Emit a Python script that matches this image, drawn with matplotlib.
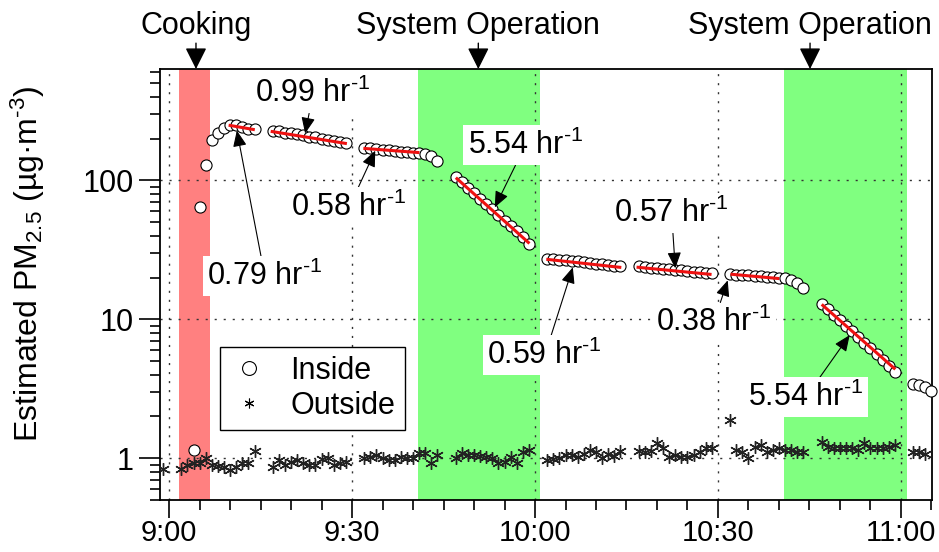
import numpy as np
import matplotlib.pyplot as plt
from matplotlib.ticker import MultipleLocator, LogLocator, NullFormatter

plt.rcParams['font.family'] = ['Liberation Sans', 'DejaVu Sans']
plt.rcParams['mathtext.fontset'] = 'custom'
plt.rcParams['mathtext.rm'] = 'Liberation Sans'
plt.rcParams['mathtext.it'] = 'Liberation Sans:italic'
plt.rcParams['mathtext.bf'] = 'Liberation Sans:bold'

# --- Data (time = minutes after 9:00) ---
inside_start = [4, 17, 32, 47, 62, 77, 92, 107, 122]
inside_vals = [
    [1.15, 64, 130, 197, 221, 240, 250, 250, 242, 236, 234],
    [229, 226, 221, 219, 215, 212, 207, 204, 200, 197, 193, 190, 186],
    [172, 170, 168, 166, 165, 163, 161, 160, 158, 157, 154, 150, 137],
    [106, 97, 88, 81, 74, 68, 62, 56, 51, 47, 43, 39, 35],
    [27.4, 27.1, 26.9, 26.6, 26.3, 26.1, 25.8, 25.5, 25.2, 25.0, 24.7, 24.4, 24.1],
    [24.1, 23.8, 23.6, 23.4, 23.2, 22.9, 22.7, 22.5, 22.3, 22.1, 21.9, 21.7, 21.4],
    [21.1, 21.0, 20.8, 20.7, 20.5, 20.4, 20.2, 20.1, 19.9, 19.7, 19.1, 18.2, 16.8],
    [13.0, 11.9, 10.8, 9.9, 9.0, 8.2, 7.5, 6.8, 6.2, 5.6, 5.1, 4.6, 4.2],
    [3.45, 3.35, 3.25, 3.05],
]

outside_start = [-1, 2, 17, 32, 47, 62, 77, 92, 107, 122]
outside_vals = [
    [0.83],
    [0.83, 0.89, 0.92, 0.92, 1.0, 0.89, 0.88, 0.86, 0.82, 0.86, 0.92, 0.92, 1.12],
    [0.86, 0.97, 0.89, 0.94, 0.97, 0.92, 0.89, 0.89, 0.98, 1.0, 0.89, 0.92, 0.94],
    [1.0, 1.02, 1.05, 1.0, 0.97, 0.97, 1.02, 1.0, 1.0, 1.09, 1.09, 0.92, 1.05],
    [1.0, 1.09, 1.05, 1.05, 1.04, 1.02, 1.0, 0.92, 0.94, 1.02, 0.92, 1.1, 1.14],
    [0.97, 0.98, 1.0, 1.05, 1.05, 1.02, 1.08, 1.14, 1.1, 1.0, 1.08, 1.03, 1.12],
    [1.12, 1.1, 1.12, 1.28, 1.18, 1.02, 1.05, 1.02, 1.02, 1.05, 1.1, 1.18, 1.18],
    [1.88, 1.14, 1.1, 1.0, 1.2, 1.24, 1.1, 1.14, 1.18, 1.14, 1.14, 1.1, 1.1],
    [1.3, 1.2, 1.18, 1.18, 1.18, 1.18, 1.14, 1.28, 1.18, 1.18, 1.18, 1.2, 1.24],
    [1.1, 1.1, 1.08],
]

# fitted decay segments (start/end time, start/end value)
fit_t0 = [10.0, 16.9, 32.1, 47.2, 62.1, 76.9, 92.3, 107.2]
fit_t1 = [13.8, 28.9, 40.8, 58.9, 73.9, 88.7, 99.8, 118.9]
fit_v0 = [249, 225, 170, 103, 27.0, 23.7, 21.1, 12.6]
fit_v1 = [233, 185, 159, 35.8, 23.7, 21.1, 19.7, 4.44]

rate_labels = ["0.79", "0.99", "0.58", "5.54", "0.59", "0.57", "0.38", "5.54"]
rate_tip_t = [11.1, 22.3, 33.8, 53.4, 66.2, 83.0, 91.6, 111.6]
rate_tip_v = [229, 218, 164, 64, 23.7, 23.3, 19.1, 7.7]
rate_text_t = [15.7, 23.6, 29.5, 58.4, 61.6, 82.4, 89.3, 104.4]
rate_text_v = [20.4, 423, 64, 179, 5.5, 58, 9.5, 2.75]

cook_period = (1.6, 6.7)
ops_periods = [(40.8, 60.8), (100.8, 121.0)]
event_labels = ["Cooking", "System Operation", "System Operation"]
event_t = [4.4, 50.7, 105.1]

xtick_pos = [0, 30, 60, 90, 120]
xtick_labels = ["9:00", "9:30", "10:00", "10:30", "11:00"]

FS = 22
HY = "\u2010"  # short hyphen for superscripts

# --- Figure ---
fig = plt.figure(figsize=(9.39, 5.52), dpi=100)
ax = fig.add_axes([160 / 939, 52 / 552, 772 / 939, 431 / 552])

ax.axvspan(*cook_period, color='#FF8080', lw=0, zorder=0.5)
for a, b in ops_periods:
    ax.axvspan(a, b, color='#80FF80', lw=0, zorder=0.5)

# outside
for t0, vals in zip(outside_start, outside_vals):
    t = t0 + np.arange(len(vals))
    ax.plot(t, vals, ls='none', marker=(6, 2, 0), ms=9, mew=1.0,
            color='#222222', zorder=3)

# inside
for t0, vals in zip(inside_start, inside_vals):
    t = t0 + np.arange(len(vals))
    ax.plot(t, vals, ls='none', marker='o', ms=8, mfc='white', mec='black',
            mew=0.8, zorder=4, clip_on=False)

for a, b, va, vb in zip(fit_t0, fit_t1, fit_v0, fit_v1):
    ax.plot([a, b], [va, vb], color='#EE1111', lw=2.2, zorder=5)

# legend proxies
ax.plot([], [], ls='none', marker='o', ms=10, mfc='white', mec='black', mew=0.8, label='Inside')
ax.plot([], [], ls='none', marker=(6, 2, 0), ms=7, mew=0.8, color='black', label='Outside')

ax.set_yscale('log')
ax.set_ylim(0.5, 635)
ax.set_xlim(-1.5, 125.1)

ax.set_xticks(xtick_pos, xtick_labels)
ax.xaxis.set_minor_locator(MultipleLocator(5))
ax.set_yticks([1, 10, 100], ["1", "10", "100"])
ax.yaxis.set_minor_locator(LogLocator(base=10, subs=np.arange(2, 10)))
ax.yaxis.set_minor_formatter(NullFormatter())

ax.tick_params(axis='y', which='major', direction='out', length=15, width=1.2, labelsize=FS, pad=4)
ax.tick_params(axis='x', which='major', direction='out', length=13, width=1.2, labelsize=21, pad=1)
ax.tick_params(which='minor', direction='out', length=7, width=1.2)
ax.tick_params(top=False, right=False, which='both')
for s in ax.spines.values():
    s.set_linewidth(1.3)

ax.grid(True, which='major', color='#333333', lw=1.0, ls=(0, (1.5, 5)))

ax.set_ylabel("Estimated PM$_{2.5}$ (µg·m$^{" + HY + "3}$)", fontsize=23)
ax.yaxis.set_label_coords(-0.146, 0.548)

leg = ax.legend(loc='upper left', bbox_to_anchor=(0.078, 0.355), borderaxespad=0,
                fontsize=FS, frameon=True, fancybox=False, framealpha=1,
                edgecolor='black', handlelength=1.3, handletextpad=0.7,
                borderpad=0.3, labelspacing=0.15)
leg.get_frame().set_linewidth(1.0)
leg.set_zorder(6)

# rate annotations
for lab, tt, tv, xt, xv in zip(rate_labels, rate_tip_t, rate_tip_v, rate_text_t, rate_text_v):
    ax.annotate(lab + " hr$^{" + HY + "1}$", xy=(tt, tv), xytext=(xt, xv),
                fontsize=FS, ha='center', va='center', zorder=7,
                bbox=dict(facecolor='white', edgecolor='none', pad=3),
                arrowprops=dict(arrowstyle='-|>,head_length=0.7,head_width=0.3',
                                color='black', lw=0.8, mutation_scale=14,
                                shrinkA=0, shrinkB=0))

# event labels above the plot
for lab, tt in zip(event_labels, event_t):
    ax.annotate("", xy=(tt, 1.0), xytext=(tt, 1.06),
                xycoords=('data', 'axes fraction'), textcoords=('data', 'axes fraction'),
                arrowprops=dict(arrowstyle='-|>,head_length=0.6,head_width=0.3',
                                color='black', lw=1.0, mutation_scale=22,
                                shrinkA=0, shrinkB=0), annotation_clip=False)
    ax.text(tt, 1.10, lab, transform=ax.get_xaxis_transform(), fontsize=FS,
            ha='center', va='center')

fig.savefig("out.png", dpi=100)
